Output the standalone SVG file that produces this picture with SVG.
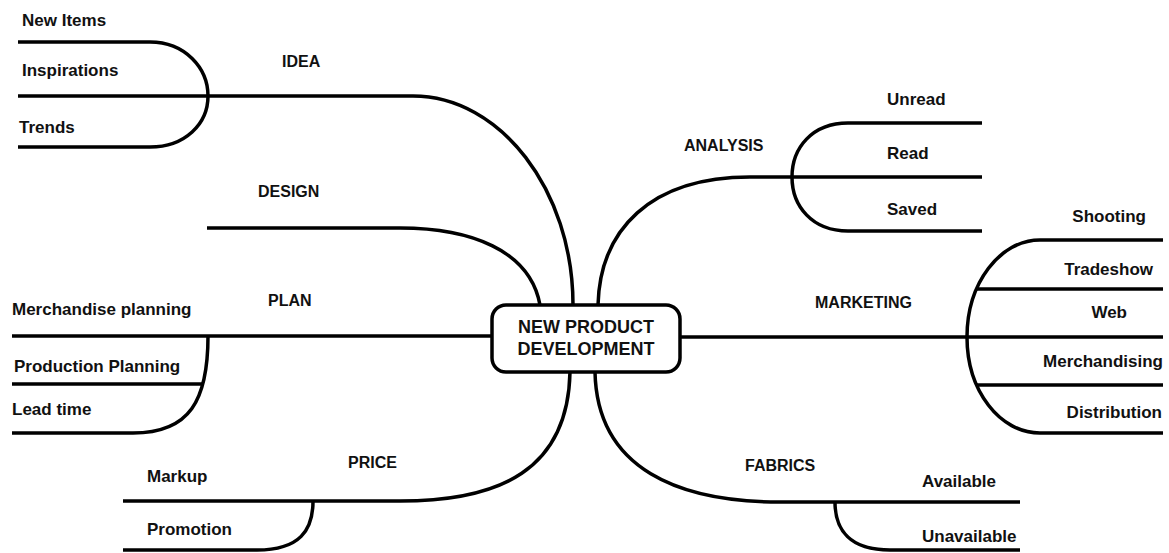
<svg xmlns="http://www.w3.org/2000/svg" width="1169" height="553" viewBox="0 0 1169 553">
  <style>
    .line { fill: none; stroke: #000; stroke-width: 3.5; stroke-linecap: butt; }
    .box { fill: #fff; stroke: #000; stroke-width: 3.5; }
    text { font-family: "Liberation Sans", Arial, sans-serif; font-weight: bold; fill: #111; }
    .cap { font-size: 16px; }
    .lbl { font-size: 17px; }
    .end { text-anchor: end; }
    .hub { font-size: 18px; text-anchor: middle; }
  </style>
  <rect width="1169" height="553" fill="#fff"/>

  <!-- connectors -->
  <g id="connectors">
    <!-- IDEA branch and its bracket -->
    <path class="line" d="M573 305 C573 190 500 96 413 96 L18 96"/>
    <path class="line" d="M18 42 L150 42 C185 42 208 68 208 96 C208 124 185 147 150 147 L18 147"/>
    <!-- DESIGN branch -->
    <path class="line" d="M540 305 C530 250 470 228 400 228 L207 228"/>
    <!-- PLAN branch and its bracket -->
    <path class="line" d="M492 336 L12 336"/>
    <path class="line" d="M208 336 C208 400 190 433 133 433 L12 433"/>
    <path class="line" d="M202 384 L12 384"/>
    <!-- PRICE branch and its bracket -->
    <path class="line" d="M570 372 C568 470 500 501 400 501 L123 501"/>
    <path class="line" d="M313 501 C313 530 300 550 257 550 L123 550"/>
    <!-- ANALYSIS branch and its bracket -->
    <path class="line" d="M598 305 C600 230 650 177 750 177 L982 177"/>
    <path class="line" d="M982 123 L848 123 C812 123 792 148 792 177 C792 206 812 231 848 231 L982 231"/>
    <!-- MARKETING branch and its bracket -->
    <path class="line" d="M680 337 L1163 337"/>
    <path class="line" d="M1163 240 L1040 240 C1000 240 967 283 967 337 C967 391 1000 433 1040 433 L1163 433"/>
    <path class="line" d="M977 289 L1163 289"/>
    <path class="line" d="M977 385 L1163 385"/>
    <!-- FABRICS branch and its bracket -->
    <path class="line" d="M595 372 C597 470 680 502 780 502 L1020 502"/>
    <path class="line" d="M835 502 C835 530 850 550 890 550 L1020 550"/>
  </g>

  <!-- central topic -->
  <g id="hub">
    <rect class="box" x="492" y="305" width="188" height="67" rx="14"/>
    <text class="hub" x="586" y="333">NEW PRODUCT</text>
    <text class="hub" x="586" y="355">DEVELOPMENT</text>
  </g>

  <g id="idea">
    <text class="cap" x="282" y="67">IDEA</text>
    <text class="lbl" x="22" y="26">New Items</text>
    <text class="lbl" x="22" y="76">Inspirations</text>
    <text class="lbl" x="19" y="133">Trends</text>
  </g>

  <g id="design">
    <text class="cap" x="258" y="197">DESIGN</text>
  </g>

  <g id="plan">
    <text class="cap" x="268" y="306">PLAN</text>
    <text class="lbl" x="12" y="315">Merchandise planning</text>
    <text class="lbl" x="14" y="372">Production Planning</text>
    <text class="lbl" x="12" y="415">Lead time</text>
  </g>

  <g id="price">
    <text class="cap" x="348" y="468">PRICE</text>
    <text class="lbl" x="147" y="482">Markup</text>
    <text class="lbl" x="147" y="535">Promotion</text>
  </g>

  <g id="analysis">
    <text class="cap" x="684" y="151">ANALYSIS</text>
    <text class="lbl" x="887" y="105">Unread</text>
    <text class="lbl" x="887" y="159">Read</text>
    <text class="lbl" x="887" y="215">Saved</text>
  </g>

  <g id="marketing">
    <text class="cap" x="815" y="308">MARKETING</text>
    <text class="lbl end" x="1146" y="222">Shooting</text>
    <text class="lbl end" x="1153" y="275">Tradeshow</text>
    <text class="lbl end" x="1127" y="318">Web</text>
    <text class="lbl end" x="1163" y="367">Merchandising</text>
    <text class="lbl end" x="1162" y="418">Distribution</text>
  </g>

  <g id="fabrics">
    <text class="cap" x="745" y="471">FABRICS</text>
    <text class="lbl" x="922" y="487">Available</text>
    <text class="lbl" x="922" y="542">Unavailable</text>
  </g>
</svg>
